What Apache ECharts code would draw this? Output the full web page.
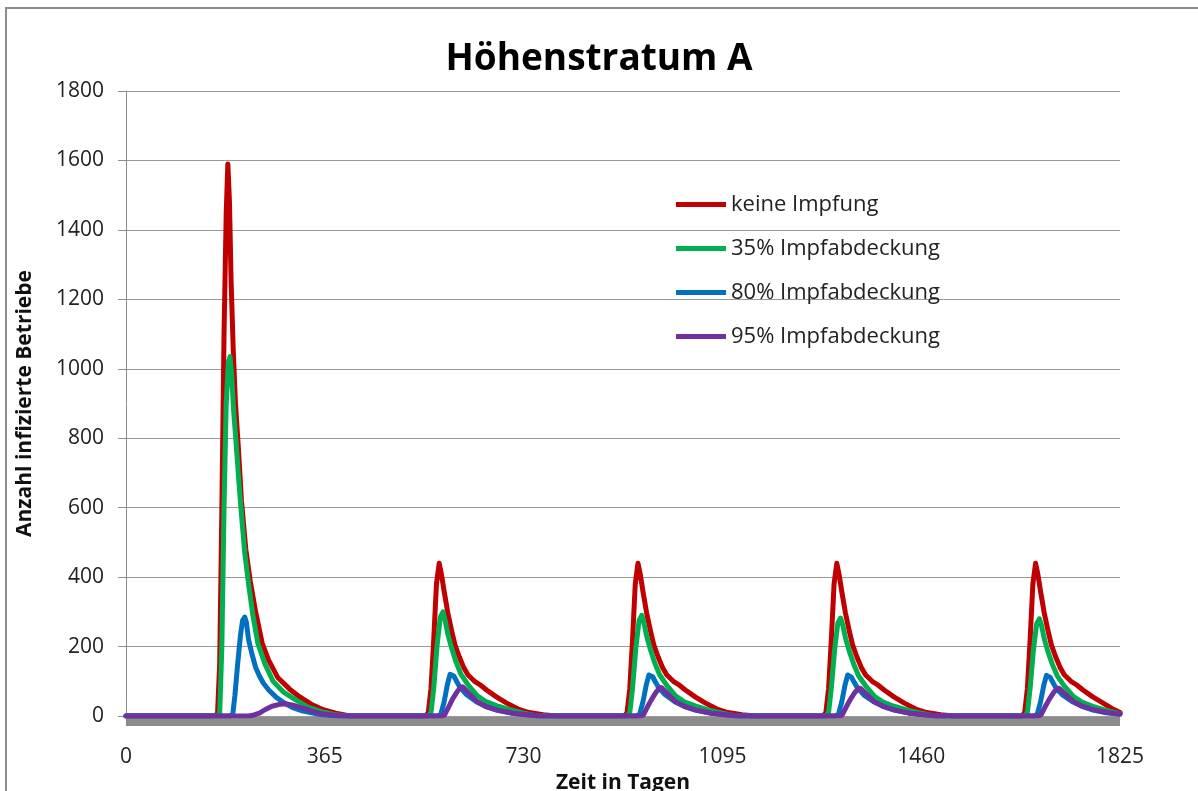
<!DOCTYPE html>
<html>
<head>
<meta charset="utf-8">
<title>Höhenstratum A</title>
<script src="https://cdn.jsdelivr.net/npm/echarts@6/dist/echarts.min.js"></script>
<style>
  html, body { margin: 0; padding: 0; background: #fff; }
  #chart { width: 1198px; height: 791px; }
</style>
</head>
<body>
<div id="chart"></div>
<script>
// Achse
var xTicks = [0, 365, 730, 1095, 1460, 1825];
var seriesNames = ['keine Impfung', '35% Impfabdeckung', '80% Impfabdeckung', '95% Impfabdeckung'];

// keine Impfung  [Tag, Anzahl]
var keineImpfung = [
  [0, 0], [160, 0], [168, 5], [172, 150], [176, 600], [180, 1100], [184, 1450], [187, 1590],
  [190, 1480], [193, 1250], [197, 1050], [201, 900], [206, 780], [212, 620], [220, 480],
  [228, 390], [238, 300], [250, 210], [262, 160], [279, 110], [300, 78], [319, 55],
  [340, 34], [362, 18], [385, 8], [411, 0],
  [550, 0], [555, 10], [560, 80], [565, 220], [570, 380], [575, 440], [579, 410], [584, 360],
  [591, 296], [598, 245], [604, 205], [612, 170], [620, 140], [628, 118], [640, 100],
  [650, 90], [662, 75], [680, 55], [699, 37], [720, 20], [740, 10], [766, 4], [790, 0],
  [915, 0], [920, 10], [925, 80], [930, 220], [935, 380], [940, 440], [944, 410], [949, 360],
  [956, 296], [963, 245], [969, 205], [977, 170], [985, 140], [993, 118], [1005, 100],
  [1015, 90], [1027, 75], [1045, 55], [1064, 37], [1085, 20], [1105, 10], [1131, 4], [1155, 0],
  [1280, 0], [1285, 10], [1290, 80], [1295, 220], [1300, 380], [1305, 440], [1309, 410], [1314, 360],
  [1321, 296], [1328, 245], [1334, 205], [1342, 170], [1350, 140], [1358, 118], [1370, 100],
  [1380, 90], [1392, 75], [1410, 55], [1429, 37], [1450, 20], [1470, 10], [1496, 4], [1520, 0],
  [1645, 0], [1650, 10], [1655, 80], [1660, 220], [1665, 380], [1670, 440], [1674, 410], [1679, 360],
  [1686, 296], [1693, 245], [1699, 205], [1707, 170], [1715, 140], [1723, 118], [1735, 100],
  [1745, 90], [1757, 75], [1775, 55], [1794, 37], [1810, 22], [1825, 10]
];

// 35% Impfabdeckung
var impf35 = [
  [0, 0], [165, 0], [172, 5], [176, 200], [180, 600], [184, 900], [188, 1020], [191, 1035],
  [194, 980], [198, 870], [202, 790], [207, 680], [212, 580], [218, 470], [225, 380],
  [233, 290], [242, 210], [255, 150], [270, 100], [290, 68], [310, 48], [335, 25],
  [360, 12], [380, 5], [402, 0],
  [555, 0], [560, 10], [565, 80], [571, 200], [577, 285], [582, 300], [586, 275], [591, 235],
  [598, 195], [606, 155], [615, 120], [628, 90], [644, 60], [660, 42], [680, 30], [705, 18],
  [730, 8], [755, 0],
  [920, 0], [925, 10], [930, 80], [936, 195], [942, 275], [947, 290], [951, 268], [956, 230],
  [963, 190], [971, 152], [980, 118], [993, 88], [1009, 58], [1025, 41], [1045, 29], [1070, 17],
  [1095, 8], [1120, 0],
  [1285, 0], [1290, 10], [1295, 80], [1301, 190], [1307, 268], [1312, 282], [1316, 262], [1321, 225],
  [1328, 186], [1336, 150], [1345, 116], [1358, 87], [1374, 57], [1390, 40], [1410, 28], [1435, 17],
  [1460, 8], [1485, 0],
  [1650, 0], [1655, 10], [1660, 80], [1666, 190], [1672, 265], [1677, 280], [1681, 260], [1686, 222],
  [1693, 184], [1701, 148], [1710, 115], [1723, 86], [1739, 57], [1755, 40], [1775, 28], [1800, 16],
  [1825, 7]
];

// 80% Impfabdeckung
var impf80 = [
  [0, 0], [190, 0], [196, 5], [200, 60], [205, 150], [210, 230], [214, 275], [218, 285],
  [221, 270], [225, 220], [231, 180], [238, 140], [245, 115], [252, 95], [262, 75],
  [275, 55], [290, 38], [305, 25], [325, 14], [350, 6], [387, 0],
  [572, 0], [578, 5], [584, 40], [590, 90], [595, 120], [598, 124], [602, 115], [607, 100],
  [613, 83], [625, 62], [644, 40], [660, 28], [681, 17], [710, 8], [741, 3], [760, 0],
  [937, 0], [943, 5], [949, 40], [955, 88], [960, 118], [963, 122], [967, 113], [972, 98],
  [978, 82], [990, 61], [1009, 40], [1025, 28], [1046, 17], [1075, 8], [1106, 3], [1125, 0],
  [1302, 0], [1308, 5], [1314, 40], [1320, 88], [1325, 118], [1328, 121], [1332, 112], [1337, 97],
  [1343, 81], [1355, 60], [1374, 40], [1390, 28], [1411, 17], [1440, 8], [1471, 3], [1490, 0],
  [1667, 0], [1673, 5], [1679, 40], [1685, 88], [1690, 117], [1693, 120], [1697, 111], [1702, 96],
  [1708, 80], [1720, 60], [1739, 40], [1755, 28], [1776, 17], [1800, 9], [1825, 5]
];

// 95% Impfabdeckung
var impf95 = [
  [0, 0], [225, 0], [235, 3], [245, 8], [255, 18], [268, 28], [280, 33], [292, 35],
  [305, 32], [320, 25], [335, 18], [350, 10], [370, 4], [395, 1], [411, 0],
  [580, 0], [585, 3], [592, 25], [600, 50], [608, 70], [614, 82], [618, 84], [623, 76],
  [630, 65], [644, 42], [660, 28], [681, 17], [710, 8], [740, 3], [760, 0],
  [945, 0], [950, 3], [957, 25], [965, 48], [973, 68], [979, 80], [983, 82], [988, 74],
  [995, 63], [1009, 41], [1025, 28], [1046, 17], [1075, 8], [1105, 3], [1125, 0],
  [1310, 0], [1315, 3], [1322, 25], [1330, 48], [1338, 67], [1344, 78], [1348, 80], [1353, 73],
  [1360, 62], [1374, 41], [1390, 28], [1411, 17], [1440, 8], [1470, 3], [1490, 0],
  [1675, 0], [1680, 3], [1687, 25], [1695, 48], [1703, 67], [1709, 78], [1713, 80], [1718, 73],
  [1725, 62], [1739, 42], [1755, 29], [1776, 18], [1800, 11], [1825, 6]
];

var colors = ['#C00000', '#00B050', '#0070C0', '#7030A0'];
var allData = [keineImpfung, impf35, impf80, impf95];
var font = '"Open Sans", Lato, sans-serif';

var seriesList = [];
for (var i = 0; i < seriesNames.length; i++) {
  seriesList.push({
    name: seriesNames[i],
    type: 'line',
    data: allData[i],
    showSymbol: false,
    symbol: 'none',
    z: 10 + i,
    lineStyle: { color: colors[i], width: 5, cap: 'round', join: 'round' },
    itemStyle: { color: colors[i] }
  });
}

var myChart = echarts.init(document.getElementById('chart'), null, { renderer: 'canvas' });
var option = {
  backgroundColor: '#fff',
  animation: false,
  color: colors,
  title: {
    text: 'Höhenstratum A',
    left: 'center',
    top: 36,
    padding: [5, 5, 5, 17],
    textStyle: { fontFamily: font, fontSize: 37, fontWeight: 'bold', color: '#000' }
  },
  legend: {
    orient: 'vertical',
    left: 676,
    top: 191,
    padding: 0,
    icon: 'rect',
    itemWidth: 50,
    itemHeight: 5,
    itemGap: 17,
    textStyle: { fontFamily: font, fontSize: 22, color: '#222', lineHeight: 27 },
    data: seriesNames
  },
  graphic: [{
    type: 'rect',
    shape: { x: 6, y: 8, width: 1300, height: 900 },
    style: { fill: 'none', stroke: '#8c8c8c', lineWidth: 2 },
    silent: true
  }],
  grid: {
    left: 126, right: 78, top: 91, bottom: 75,
    containLabel: false, outerBoundsMode: 'none'
  },
  xAxis: {
    type: 'value',
    min: 0, max: 1825, interval: 365,
    offset: 5,
    name: 'Zeit in Tagen',
    nameLocation: 'middle',
    nameGap: 27,
    nameTextStyle: { fontFamily: font, fontSize: 21, fontWeight: 'bold', color: '#111' },
    axisLine: { show: true, onZero: false, lineStyle: { color: '#8c8c8c', width: 9, cap: 'butt' } },
    axisTick: { show: false },
    splitLine: { show: false },
    axisLabel: {
      fontFamily: font, fontSize: 21, color: '#222', margin: 26,
      formatter: function (v) { return xTicks.indexOf(v) >= 0 ? String(v) : ''; }
    }
  },
  yAxis: {
    type: 'value',
    min: 0, max: 1800, interval: 200,
    name: 'Anzahl infizierte Betriebe',
    nameLocation: 'middle',
    nameGap: 90,
    nameTextStyle: { fontFamily: font, fontSize: 21, fontWeight: 'bold', color: '#111' },
    axisLine: { show: true, lineStyle: { color: '#8c8c8c', width: 1 } },
    axisTick: { show: true, inside: false, length: 8, lineStyle: { color: '#8c8c8c' } },
    splitLine: { show: true, lineStyle: { color: '#999', width: 1 } },
    axisLabel: {
      fontFamily: font, fontSize: 21, color: '#222', margin: 22,
      formatter: function (v) { return String(v); }
    }
  },
  series: seriesList
};
myChart.setOption(option, true);
</script>
</body>
</html>
